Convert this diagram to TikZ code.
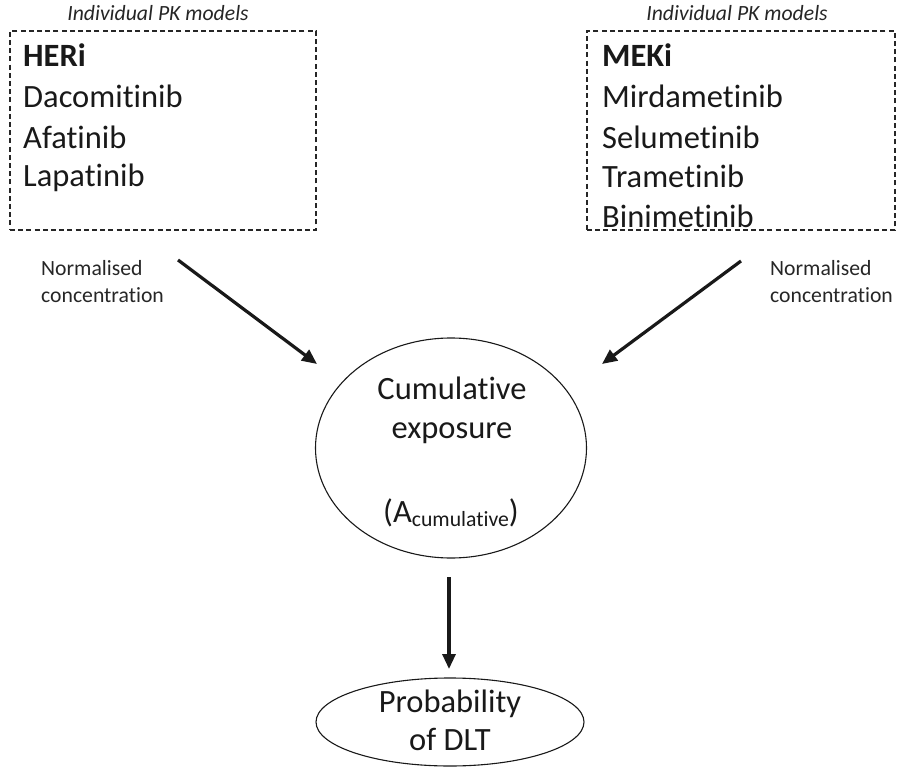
\documentclass[tikz,border=0pt]{standalone}
\usepackage{fontspec}
\setmainfont{Carlito}[Ligatures={NoCommon,NoRare,NoContextual},RawFeature={-liga;-clig;-dlig;-calt}]
\usetikzlibrary{arrows.meta,shapes.geometric}
\newcommand{\bigtxt}{\fontsize{32.5}{39.7}\selectfont}
\newcommand{\smalltxt}{\fontsize{21.7}{27}\selectfont}
\begin{document}
\begin{tikzpicture}[x=1pt,y=-1pt,
  model/.style={draw, dashed, dash pattern=on 5pt off 3.2pt, line width=1.3pt, color=black!85},
  drug/.style={anchor=base west, inner sep=0pt, font=\bigtxt, text=black!90},
  caption/.style={anchor=base, inner sep=0pt, font=\smalltxt\itshape, text=black!85},
  note/.style={anchor=base west, inner sep=0pt, font=\smalltxt, text=black!85, align=left},
  bubble/.style={draw, ellipse, inner sep=0pt, line width=1.1pt, color=black!90},
  inner/.style={anchor=base, inner sep=0pt, font=\bigtxt, text=black!90},
  flow/.style={-{Triangle[length=15pt,width=13pt]}, line width=3.2pt, color=black!90}]
\useasboundingbox (0,0) rectangle (898,768);

% dashed boxes holding the individual PK models
\node[model, minimum width=306pt, minimum height=199pt, inner sep=0pt] (boxL) at (163,130.5) {};
\node[model, minimum width=308pt, minimum height=199pt, inner sep=0pt] (boxR) at (741,130.5) {};
\node[caption] (capL) at (158,21) {Individual PK models};
\node[caption] (capR) at (737,21) {Individual PK models};

% HER inhibitors
\node[drug] (heri) at (23,67) {\bfseries HERi};
\node[drug] (daco) at (23,108) {Dacomitinib};
\node[drug] (afat) at (23,148) {Afatinib};
\node[drug] (lapa) at (23,186) {Lapatinib};

% MEK inhibitors
\node[drug] (meki) at (602,67) {\bfseries MEKi};
\node[drug] (mird) at (602,108) {Mirdametinib};
\node[drug] (selu) at (602,148) {Selumetinib};
\node[drug] (tram) at (602,187) {Trametinib};
\node[drug] (bini) at (602,227) {Binimetinib};

% arrow labels
\node[note] (normL) at (41,275) {Normalised};
\node[note] (concL) at (41,302) {concentration};
\node[note] (normR) at (770,275) {Normalised};
\node[note] (concR) at (770,302) {concentration};

% cumulative exposure
\node[bubble, minimum width=271pt, minimum height=220pt] (cumul) at (451,448) {};
\node[inner] (cum1) at (452,399) {Cumulative};
\node[inner] (cum2) at (452,438) {exposure};
\node[inner] (cum3) at (451,522) {(A\raisebox{-4pt}{\smalltxt cumulative})};

% probability of DLT
\node[bubble, minimum width=268pt, minimum height=88pt] (dlt) at (450,722) {};
\node[inner] (p1) at (450,712) {Probability};
\node[inner] (p2) at (450,750) {of DLT};

% connectors
\coordinate (aLs) at (178,260);
\coordinate (aLe) at (317,364);
\coordinate (aRs) at (741,261);
\coordinate (aRe) at (602,364);
\coordinate (aDs) at (449,577);
\coordinate (aDe) at (449,669);
\draw[flow] (aLs) -- (aLe);
\draw[flow] (aRs) -- (aRe);
\draw[flow] (aDs) -- (aDe);
\end{tikzpicture}
\end{document}
